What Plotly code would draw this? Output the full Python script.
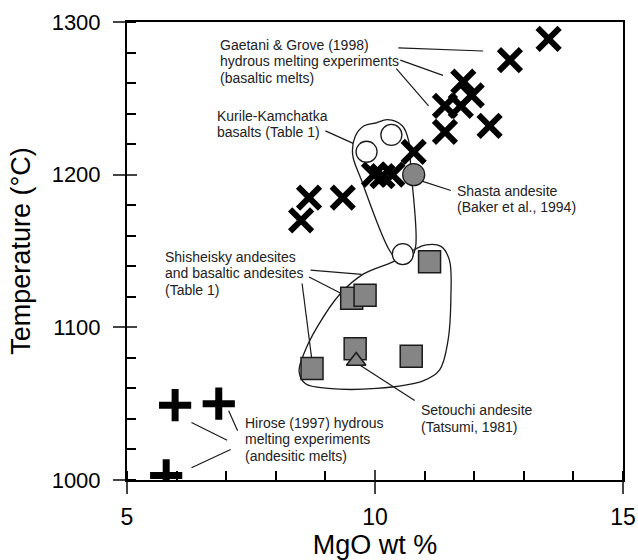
import plotly.graph_objects as go

# ---------------- data ----------------
gaetani_mgo = [13.5, 12.72, 11.78, 11.95, 11.41, 11.73, 12.31, 11.41, 10.78, 10.35, 9.98, 10.15, 8.67, 8.51, 9.35]
gaetani_t   = [1289, 1275, 1261, 1252, 1245, 1245, 1232, 1228, 1215, 1200, 1200, 1199, 1185, 1170, 1185]

hirose_mgo = [5.97, 6.85, 5.79]
hirose_t   = [1049, 1050, 1003]

kurile_mgo = [9.83, 10.33, 10.56]
kurile_t   = [1215, 1226, 1148]

shasta_mgo = [10.78]
shasta_t   = [1200]

shish_mgo = [11.1, 9.53, 9.8, 9.6, 10.73, 8.73]
shish_t   = [1143, 1119, 1121, 1086, 1081, 1073]

setouchi_mgo = [9.62]
setouchi_t   = [1078]

# outlines (MgO, T)
kurile_outline_x = [10.03, 10.25, 10.55, 10.68, 10.72, 10.82, 10.72, 10.5, 10.3, 9.72, 9.55, 9.6, 9.78, 10.03]
kurile_outline_y = [1234, 1236, 1232, 1222, 1205, 1153, 1145, 1143, 1150, 1197, 1213, 1225, 1232, 1234]

shish_outline_x = [10.37, 9.77, 9.3, 8.83, 8.57, 8.47, 8.6, 9.05, 10.03, 10.97, 11.3, 11.47, 11.53, 11.5, 11.33, 11.03, 10.8, 10.37]
shish_outline_y = [1143, 1135, 1122, 1100, 1083, 1071, 1063, 1060, 1060, 1065, 1072, 1091, 1120, 1144, 1153, 1154, 1151, 1143]

# leader lines: (x0, y0, x1, y1)
leaders = [
    (10.47, 1283, 12.18, 1281),
    (10.51, 1275, 11.37, 1265),
    (10.43, 1269.5, 11.08, 1245),
    (9.0, 1228.7, 9.56, 1220.5),
    (10.96, 1195.6, 11.53, 1189.6),
    (8.7, 1137.5, 9.73, 1134.7),
    (8.67, 1133, 9.33, 1122),
    (8.53, 1128.7, 8.73, 1078),
    (10.8, 1052, 9.66, 1076),
    (7.05, 1045.4, 7.23, 1032.2),
    (6.3, 1037.7, 7.02, 1026),
    (6.3, 1008, 7.09, 1020),
]

# label text: (MgO of left edge, T of first line, lines)
labels = [
    (6.84, 1285, ["Gaetani & Grove (1998)", "hydrous melting experiments", "(basaltic melts)"]),
    (6.77, 1238.6, ["Kurile-Kamchatka", "basalts (Table 1)"]),
    (11.61, 1189.6, ["Shasta andesite", "(Baker et al., 1994)"]),
    (5.72, 1146, ["Shisheisky andesites", "and basaltic andesites", "(Table 1)"]),
    (10.88, 1045.7, ["Setouchi andesite", "(Tatsumi, 1981)"]),
    (7.33, 1037.4, ["Hirose (1997) hydrous", "melting experiments", "(andesitic melts)"]),
]
LINE_STEP = 10.7  # degrees between text lines

BASE = "Liberation Sans, Arial, Helvetica"
LINE = "#1a1a1a"
GREY = "#858585"

fig = go.Figure()

# outlines
for ox, oy in [(kurile_outline_x, kurile_outline_y), (shish_outline_x, shish_outline_y)]:
    fig.add_trace(go.Scatter(x=ox, y=oy, mode="lines",
                             line=dict(color=LINE, width=1.3, shape="spline", smoothing=1.0),
                             hoverinfo="skip", showlegend=False))

# leader lines
lx, ly = [], []
for x0, y0, x1, y1 in leaders:
    lx += [x0, x1, None]
    ly += [y0, y1, None]
fig.add_trace(go.Scatter(x=lx, y=ly, mode="lines", line=dict(color=LINE, width=1.2),
                         hoverinfo="skip", showlegend=False))

# markers
fig.add_trace(go.Scatter(x=gaetani_mgo, y=gaetani_t, mode="markers",
                         marker=dict(symbol="x-thin", size=22, line=dict(color="black", width=6)),
                         showlegend=False))
fig.add_trace(go.Scatter(x=hirose_mgo, y=hirose_t, mode="markers",
                         marker=dict(symbol="cross-thin", size=23, line=dict(color="black", width=7)),
                         showlegend=False))
fig.add_trace(go.Scatter(x=kurile_mgo, y=kurile_t, mode="markers",
                         marker=dict(symbol="circle", size=21, color="white", line=dict(color=LINE, width=1.3)),
                         showlegend=False))
fig.add_trace(go.Scatter(x=shasta_mgo, y=shasta_t, mode="markers",
                         marker=dict(symbol="circle", size=22, color=GREY, line=dict(color=LINE, width=1.3)),
                         showlegend=False))
fig.add_trace(go.Scatter(x=shish_mgo, y=shish_t, mode="markers",
                         marker=dict(symbol="square", size=22, color=GREY, line=dict(color=LINE, width=1.5)),
                         showlegend=False))
fig.add_trace(go.Scatter(x=setouchi_mgo, y=setouchi_t, mode="markers",
                         marker=dict(symbol="triangle-up", size=17, color=GREY, line=dict(color=LINE, width=1.5)),
                         showlegend=False))

for x, y, lines in labels:
    for i, t in enumerate(lines):
        fig.add_annotation(x=x, y=y - i * LINE_STEP, xref="x", yref="y", text=t, showarrow=False,
                           xanchor="left", yanchor="middle", align="left",
                           font=dict(family=BASE, size=14, color="#222"))

# companion axes so the major ticks cross the axis line
fig.add_trace(go.Scatter(x=[None], y=[None], xaxis="x2", yaxis="y2", showlegend=False))

fig.update_layout(
    width=638, height=560,
    margin=dict(l=127, r=15, t=22, b=80, autoexpand=False),
    paper_bgcolor="white", plot_bgcolor="white",
    showlegend=False,
    xaxis=dict(range=[5, 15], tickvals=[5, 10, 15], ticks="outside", ticklen=12, tickwidth=2,
               ticklabelstandoff=3, automargin=False,
               showline=True, linecolor="black", linewidth=2, mirror=True, showgrid=False, zeroline=False,
               tickfont=dict(family=BASE, size=23, color="black"),
               title=dict(text="MgO wt %", font=dict(family=BASE, size=27, color="black"), standoff=6),
               minor=dict(dtick=1, ticks="inside", ticklen=9, tickwidth=2, tickcolor="black", showgrid=False)),
    yaxis=dict(range=[1000, 1300], tickvals=[1000, 1100, 1200, 1300], ticks="outside", ticklen=12, tickwidth=2,
               ticklabelstandoff=8, automargin=False,
               showline=True, linecolor="black", linewidth=2, mirror=True, showgrid=False, zeroline=False,
               tickfont=dict(family=BASE, size=22, color="black"),
               title=dict(text="Temperature (°C)", font=dict(family=BASE, size=27, color="black"), standoff=13),
               minor=dict(dtick=20, ticks="inside", ticklen=9, tickwidth=2, tickcolor="black", showgrid=False)),
    xaxis2=dict(overlaying="x", matches="x", side="bottom", tickvals=[5, 10, 15], ticks="inside", ticklen=10,
                tickwidth=2, showticklabels=False, showgrid=False, zeroline=False, showline=False,
                automargin=False),
    yaxis2=dict(overlaying="y", matches="y", side="left", tickvals=[1000, 1100, 1200, 1300], ticks="inside",
                ticklen=10, tickwidth=2, showticklabels=False, showgrid=False, zeroline=False, showline=False,
                automargin=False),
)

fig.write_html("out.html")
